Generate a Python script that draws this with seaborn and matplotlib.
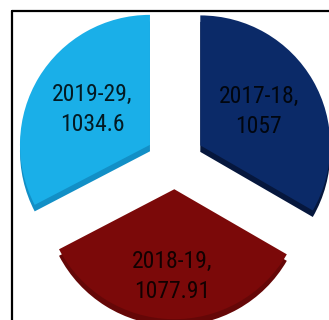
import matplotlib
matplotlib.use("Agg")
import matplotlib.pyplot as plt
import seaborn as sns
import numpy as np
from matplotlib.lines import Line2D
from matplotlib import font_manager

sns.set_theme(style="white")
installed = {f.name for f in font_manager.fontManager.ttflist}
narrow = [n for n in ["Roboto Condensed", "Open Sans Condensed", "Liberation Sans Narrow",
                      "DejaVu Sans Condensed"] if n in installed]
if narrow:
    plt.rcParams['font.family'] = [narrow[0], 'Lato', 'DejaVu Sans']
    label_size = 17
else:
    plt.rcParams['font.family'] = ['Lato', 'DejaVu Sans']
    label_size = 15.5

years = ["2017-18", "2018-19", "2019-29"]
values = [1057, 1077.91, 1034.6]
value_labels = ["1057", "1077.91", "1034.6"]
top_colors = ["#0b2a68", "#7b0909", "#1aafe8"]
side_colors = ["#06173d", "#650707", "#128fc6"]

fig = plt.figure(figsize=(3.29, 3.20), dpi=100)
ax = fig.add_axes([0, 0, 1, 1])
ax.set_axis_off()

R = 1.0
explode = [0.225] * 3
depth = 0.05

# side (depth) layer of the 3D-looking pie
ax.pie(values, colors=side_colors, startangle=90, counterclock=False,
       explode=explode, radius=R, center=(0, -depth),
       wedgeprops=dict(linewidth=0))
wedges, _ = ax.pie(values, colors=top_colors, startangle=90, counterclock=False,
                   explode=explode, radius=R, center=(0, 0),
                   wedgeprops=dict(linewidth=0))

label_dist = [0.52, 0.67, 0.52]
for w, yr, vl, d in zip(wedges, years, value_labels, label_dist):
    th = np.deg2rad((w.theta1 + w.theta2) / 2)
    cx, cy = w.center
    ax.text(cx + d * w.r * np.cos(th), cy + d * w.r * np.sin(th),
            f"{yr},\n{vl}", ha="center", va="center", fontsize=label_size,
            color="#000000", alpha=0.85, linespacing=1.4)

ax.set_aspect("equal")
ax.set_xlim(-1.346, 1.185)
ax.set_ylim(-1.231, 1.231)

fx = 12 / 329
fy = 1 - 11 / 320
fig.add_artist(Line2D([fx, fx], [0, fy], transform=fig.transFigure, color="black", lw=1.6))
fig.add_artist(Line2D([fx, 1], [fy, fy], transform=fig.transFigure, color="black", lw=1.6))

fig.savefig("out.png", dpi=100, facecolor="white")
